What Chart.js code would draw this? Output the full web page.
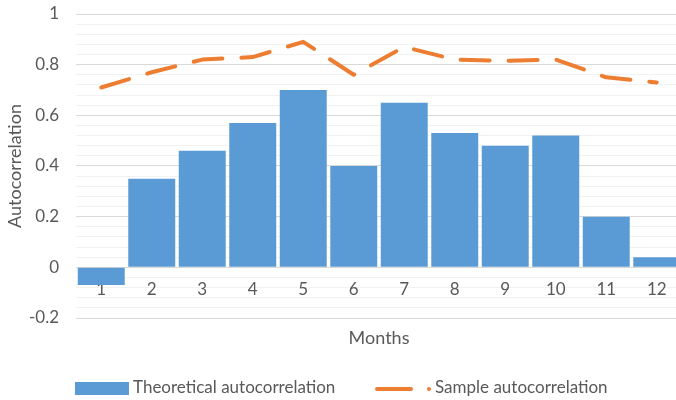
<!DOCTYPE html>
<html>
<head>
<meta charset="utf-8">
<script src="https://cdn.jsdelivr.net/npm/chart.js@4"></script>
<style>
    html, body { margin: 0; padding: 0; background: #fff; overflow: hidden; }
    /* the original plot runs a few pixels past the right edge of the picture */
    #wrap { width: 682px; height: 400px; position: relative; }
</style>
</head>
<body>
<div id="wrap"><canvas id="acf_chart"></canvas></div>
<script>
const months = ['1', '2', '3', '4', '5', '6', '7', '8', '9', '10', '11', '12'];
const theoretical = [-0.07, 0.35, 0.46, 0.57, 0.70, 0.40, 0.65, 0.53, 0.48, 0.52, 0.20, 0.04];
const sample = [0.71, 0.77, 0.82, 0.83, 0.89, 0.76, 0.87, 0.82, 0.815, 0.82, 0.75, 0.73];

const FONT = 'Lato, "Open Sans", sans-serif';
const TEXT = '#595959';
const BLUE = '#5B9BD5';
const ORANGE = '#ED7D31';

// legend drawn by hand so the dashed line item looks like the Excel one
const bottomLegend = {
    id: 'bottomLegend',
    afterDraw(chart) {
        const ctx = chart.ctx;
        const y = 388;
        ctx.save();
        ctx.fillStyle = BLUE;
        ctx.fillRect(75, 382, 54, 13);

        ctx.strokeStyle = ORANGE;
        ctx.lineWidth = 4;
        ctx.lineCap = 'round';
        ctx.beginPath();
        ctx.moveTo(377, y + 1);
        ctx.lineTo(411, y + 1);
        ctx.stroke();
        ctx.beginPath();
        ctx.arc(429, y + 1, 2, 0, Math.PI * 2);
        ctx.fillStyle = ORANGE;
        ctx.fill();

        ctx.fillStyle = TEXT;
        ctx.font = '17px ' + FONT;
        ctx.textBaseline = 'middle';
        ctx.fillText(chart.data.datasets[0].label, 133, y);
        ctx.fillText(chart.data.datasets[1].label, 435, y);
        ctx.restore();
    }
};

const isMajor = v => Math.abs(Math.round(v * 100) % 20) === 0;

const ctx = document.getElementById('acf_chart').getContext('2d');
new Chart(ctx, {
    data: {
        labels: months,
        datasets: [{
            type: 'bar',
            label: 'Theoretical autocorrelation',
            data: theoretical,
            backgroundColor: BLUE,
            barPercentage: 0.93,
            categoryPercentage: 1,
            order: 1
        }, {
            type: 'line',
            label: 'Sample autocorrelation',
            data: sample,
            borderColor: ORANGE,
            borderWidth: 4,
            borderDash: [29, 19],
            borderCapStyle: 'round',
            borderJoinStyle: 'round',
            pointRadius: 0,
            tension: 0,
            fill: false,
            order: 0
        }]
    },
    options: {
        responsive: true,
        maintainAspectRatio: false,
        animation: false,
        layout: {
            padding: { top: 14, right: 0, bottom: 82, left: 0 }
        },
        plugins: {
            legend: { display: false },
            tooltip: { enabled: false }
        },
        scales: {
            x: {
                position: { y: 0 },
                grid: { display: false, drawTicks: false },
                border: { display: false },
                ticks: {
                    color: TEXT,
                    font: { family: FONT, size: 17 },
                    padding: 12,
                    maxRotation: 0,
                    autoSkip: false
                },
                title: {
                    display: true,
                    text: 'Months',
                    color: TEXT,
                    font: { family: FONT, size: 18 },
                    padding: { top: 16, bottom: 0 }
                }
            },
            y: {
                min: -0.2,
                max: 1,
                afterFit: scale => {
                    scale.width = 76;
                    scale.paddingTop = 0;
                    scale.paddingBottom = 0;
                },
                grid: {
                    drawTicks: false,
                    color: c => isMajor(c.tick.value) ? '#d9d9d9' : '#f2f2f2',
                    lineWidth: 1
                },
                border: { display: false },
                ticks: {
                    stepSize: 0.04,
                    autoSkip: false,
                    color: TEXT,
                    font: { family: FONT, size: 17 },
                    padding: 17,
                    callback: v => isMajor(v) ? String(Math.round(v * 10) / 10) : ''
                },
                title: {
                    display: true,
                    text: 'Autocorrelation',
                    color: TEXT,
                    font: { family: FONT, size: 18 },
                    padding: { top: 4, bottom: 6 }
                }
            }
        }
    },
    plugins: [bottomLegend]
});
</script>
</body>
</html>
